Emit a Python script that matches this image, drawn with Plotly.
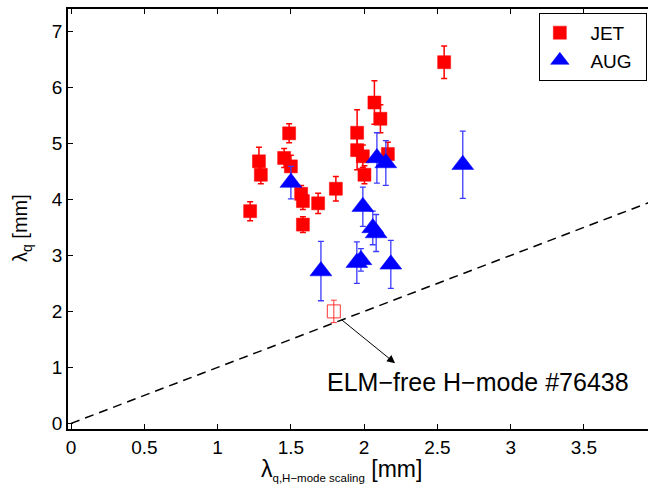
import plotly.graph_objects as go

# JET data (filled red squares)
jet_x = [1.222, 1.282, 1.295, 1.454, 1.488, 1.500, 1.570, 1.582, 1.582, 1.686,
         1.807, 1.952, 1.952, 1.991, 2.002, 2.070, 2.111, 2.162, 2.546]
jet_y = [3.79, 4.68, 4.44, 4.74, 5.18, 4.59, 4.10, 3.97, 3.55, 3.93,
         4.19, 5.19, 4.88, 4.77, 4.44, 5.73, 5.44, 4.81, 6.45]
jet_err = [0.17, 0.25, 0.16, 0.17, 0.17, 0.20, 0.15, 0.15, 0.14, 0.18,
           0.22, 0.41, 0.35, 0.20, 0.16, 0.39, 0.25, 0.21, 0.29]

# ELM-free H-mode #76438 (open red square)
elm_x = [1.793]
elm_y = [2.00]
elm_err = [0.20]

# AUG data (blue triangles)
aug_x = [1.500, 1.991, 2.059, 2.082, 1.950, 1.978, 2.182, 1.705, 2.087, 2.148, 2.673]
aug_y = [4.30, 3.87, 3.49, 3.40, 2.87, 2.92, 2.84, 2.72, 4.74, 4.65, 4.62]
aug_err = [0.29, 0.35, 0.30, 0.33, 0.37, 0.20, 0.43, 0.53, 0.45, 0.40, 0.60]

# reference line lambda_q = lambda_q,scaling
ref_x = [0, 4]
ref_y = [0, 4]

x_ticks = [0, 0.5, 1, 1.5, 2, 2.5, 3, 3.5]
x_tick_text = ["0", "0.5", "1", "1.5", "2", "2.5", "3", "3.5"]
y_ticks = [0, 1, 2, 3, 4, 5, 6, 7]

FONT = "Liberation Sans, Arial, Helvetica, sans-serif"
NB = "\u00a0"

fig = go.Figure()

fig.add_trace(go.Scatter(
    x=ref_x, y=ref_y, mode="lines",
    line=dict(color="black", width=1.5, dash="9px,6px"),
    showlegend=False, hoverinfo="skip"))

fig.add_trace(go.Scatter(
    x=jet_x, y=jet_y, mode="markers", name=NB * 2 + "JET" + NB * 3,
    marker=dict(symbol="square", size=13, color="#ff0000",
                line=dict(color="#ff0000", width=0.5)),
    error_y=dict(type="data", array=jet_err, visible=True,
                 color="#ff0000", thickness=1.5, width=3)))

fig.add_trace(go.Scatter(
    x=elm_x, y=elm_y, mode="markers", showlegend=False,
    marker=dict(symbol="square-open", size=13, color="#ff3333",
                line=dict(color="#ff3333", width=1)),
    error_y=dict(type="data", array=elm_err, visible=True,
                 color="#ff3333", thickness=1, width=3)))

fig.add_trace(go.Scatter(
    x=aug_x, y=aug_y, mode="markers", name=NB * 2 + "AUG",
    marker=dict(symbol="triangle-up", size=19, color="#0000ff",
                line=dict(color="#0000ff", width=0.5)),
    error_y=dict(type="data", array=aug_err, visible=True,
                 color="#3c3cff", thickness=1.3, width=3)))

# arrow from the open square to the label
fig.add_annotation(x=2.211, y=1.075, ax=1.836, ay=1.872,
                   xref="x", yref="y", axref="x", ayref="y",
                   text="", showarrow=True, arrowhead=2, arrowsize=1.6,
                   arrowwidth=1, arrowcolor="black")
fig.add_annotation(x=2.78, y=0.736, xref="x", yref="y",
                   text="ELM\u2212free H\u2212mode #76438", showarrow=False,
                   xanchor="center", yanchor="middle",
                   font=dict(family=FONT, size=25, color="black"))

# axis titles
fig.add_annotation(x=1.843, y=-0.097, xref="x", yref="paper",
                   text=("\u03bb<sub><span style='font-size:11.5px'>q,H\u2212mode scaling</span></sub>"
                         " [mm]"),
                   showarrow=False, xanchor="center", yanchor="middle",
                   font=dict(family=FONT, size=23, color="black"))
fig.add_annotation(x=-0.079, y=0.479, xref="paper", yref="paper",
                   text="\u03bb<sub>q</sub> [mm]", textangle=-90,
                   showarrow=False, xanchor="center", yanchor="middle",
                   font=dict(family=FONT, size=20, color="black"))

fig.update_layout(
    width=648, height=501,
    margin=dict(l=68, r=0, t=9, b=72),
    paper_bgcolor="white", plot_bgcolor="white",
    font=dict(family=FONT, size=19, color="black"),
    legend=dict(x=0.998, y=0.991, xanchor="right", yanchor="top",
                bordercolor="black", borderwidth=1, bgcolor="white",
                font=dict(family=FONT, size=19, color="black"),
                itemsizing="trace", tracegroupgap=0),
    xaxis=dict(range=[-0.021, 3.937], tickvals=x_ticks, ticktext=x_tick_text,
               showgrid=False, zeroline=False, showline=True,
               linecolor="black", linewidth=1.5, mirror="ticks",
               ticks="inside", ticklen=5, tickwidth=1, tickcolor="black",
               automargin=False),
    yaxis=dict(range=[-0.1, 7.4], tickvals=y_ticks,
               showgrid=False, zeroline=False, showline=True,
               linecolor="black", linewidth=1.5, mirror=False,
               ticks="inside", ticklen=5, tickwidth=1, tickcolor="black",
               automargin=False),
)

fig.write_html("out.html", config={"displayModeBar": False},
               post_script="document.body.style.margin='0';document.body.style.padding='0';")
